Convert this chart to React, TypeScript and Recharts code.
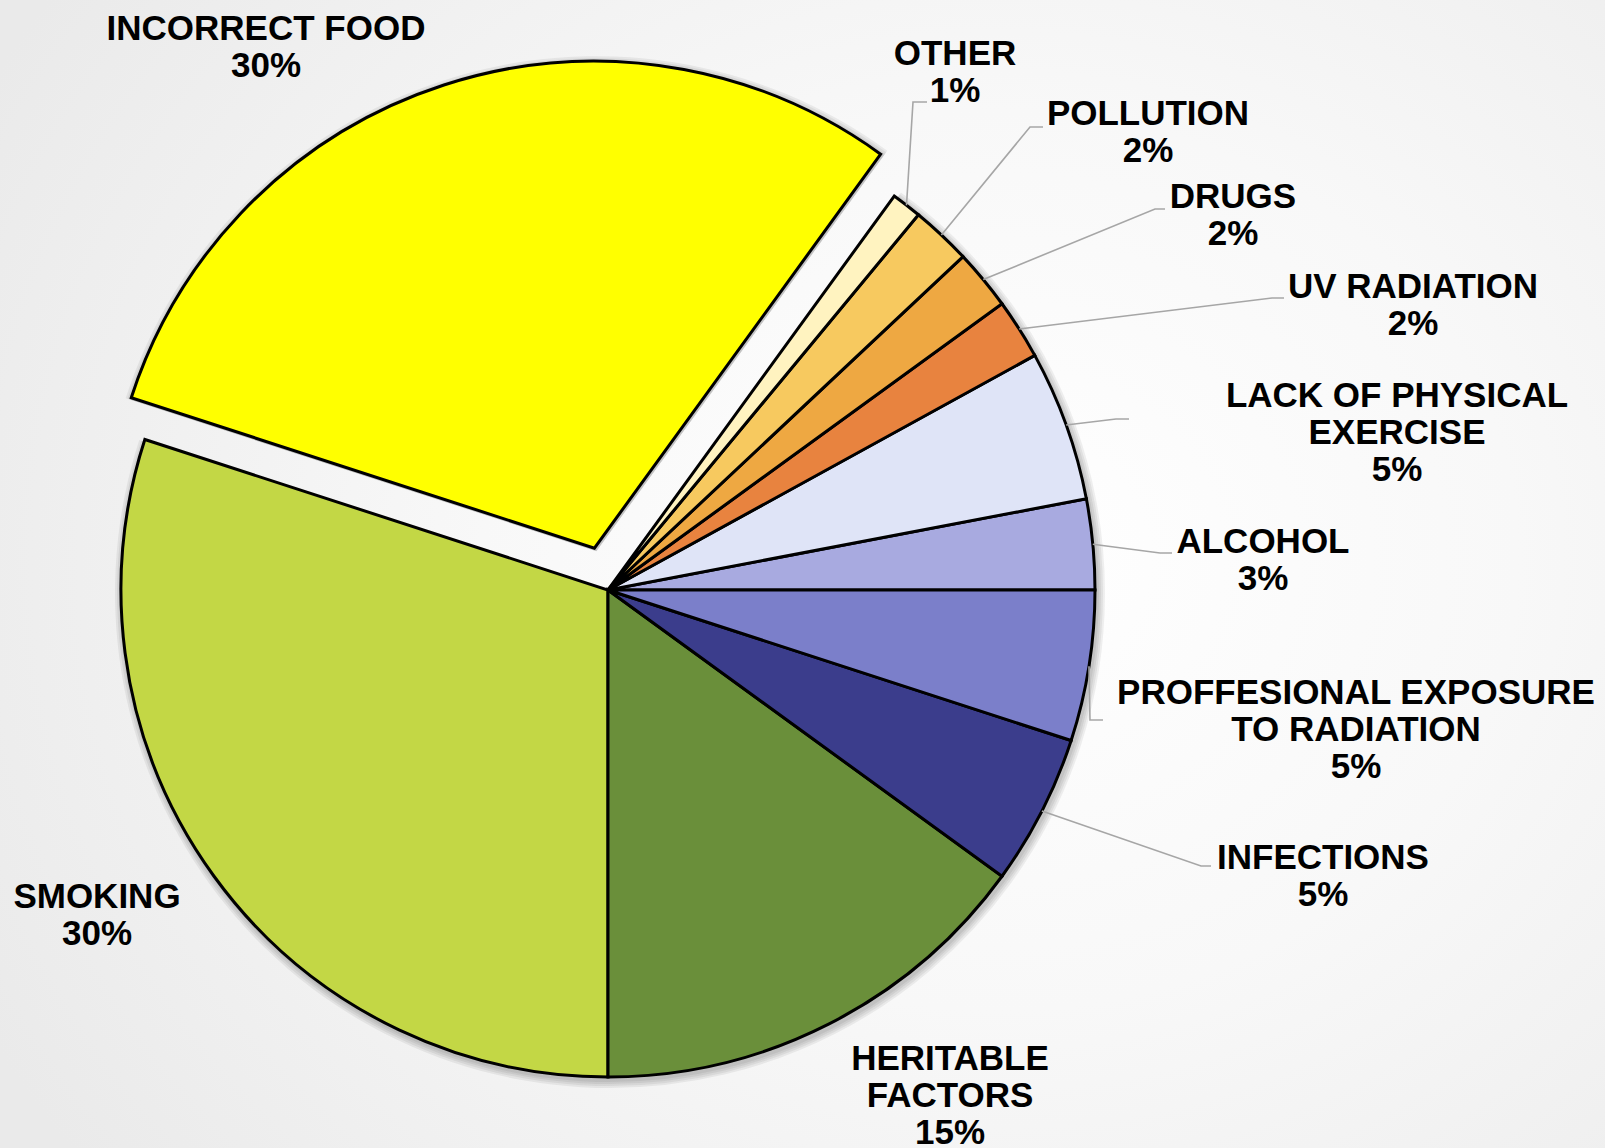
import React from 'react';
import { PieChart, Pie, Cell } from 'recharts';

// ---- data ----
const categories: string[] = [
  'ALCOHOL',
  'LACK OF PHYSICAL EXERCISE',
  'UV RADIATION',
  'DRUGS',
  'POLLUTION',
  'OTHER',
  'INCORRECT FOOD',
  'SMOKING',
  'HERITABLE FACTORS',
  'INFECTIONS',
  'PROFFESIONAL EXPOSURE TO RADIATION',
];
const values: number[] = [3, 5, 2, 2, 2, 1, 30, 30, 15, 5, 5];
const colors: string[] = [
  '#a8aae0',
  '#dfe4f7',
  '#e8833f',
  '#eea842',
  '#f7c95f',
  '#fff3c0',
  '#ffff00',
  '#c3d745',
  '#6a8f3a',
  '#3b3d8c',
  '#7b7fca',
];
const labelLines: string[][] = [
  ['ALCOHOL'],
  ['LACK OF PHYSICAL', 'EXERCISE'],
  ['UV RADIATION'],
  ['DRUGS'],
  ['POLLUTION'],
  ['OTHER'],
  ['INCORRECT FOOD'],
  ['SMOKING'],
  ['HERITABLE', 'FACTORS'],
  ['INFECTIONS'],
  ['PROFFESIONAL EXPOSURE', 'TO RADIATION'],
];
const explodedCategory = 'INCORRECT FOOD';

const data = categories.map((name, i) => ({ name, value: values[i] }));

// ---- layout ----
const W = 1605;
const H = 1148;
const CX = 608;
const CY = 590;
const R = 487;
const EXPLODE = 44;
const FONT = 35;
const LINE_H = 37;
const SHADOW_RINGS = [2, 4, 6, 8];
const SHADOW_DX = 2;
const SHADOW_DY = 3;

type LabelLayout = { x: number; y: number; bend?: [number, number]; end?: [number, number] };
const labelLayout: Record<string, LabelLayout> = {
  'INCORRECT FOOD': { x: 266, y: 40 },
  OTHER: { x: 955, y: 65, bend: [913, 102], end: [927, 102] },
  POLLUTION: { x: 1148, y: 125, bend: [1030, 127], end: [1043, 127] },
  DRUGS: { x: 1233, y: 208, bend: [1155, 209], end: [1165, 209] },
  'UV RADIATION': { x: 1413, y: 298, bend: [1272, 298], end: [1284, 298] },
  'LACK OF PHYSICAL EXERCISE': { x: 1397, y: 407, bend: [1116, 419], end: [1129, 419] },
  ALCOHOL: { x: 1263, y: 553, bend: [1160, 553], end: [1172, 553] },
  'PROFFESIONAL EXPOSURE TO RADIATION': { x: 1356, y: 704, bend: [1090, 720], end: [1103, 720] },
  INFECTIONS: { x: 1323, y: 869, bend: [1201, 866], end: [1211, 866] },
  'HERITABLE FACTORS': { x: 950, y: 1070 },
  SMOKING: { x: 97, y: 908 },
};

// exploded slice offset computed from the data
const total = values.reduce((a, b) => a + b, 0);
const exIdx = categories.indexOf(explodedCategory);
const before = values.slice(0, exIdx).reduce((a, b) => a + b, 0);
const exMid = ((before + values[exIdx] / 2) / total) * 360 * (Math.PI / 180);
const CX2 = CX + EXPLODE * Math.cos(exMid);
const CY2 = CY - EXPLODE * Math.sin(exMid);

const renderLabel = (props: any) => {
  const name: string = props?.payload?.name ?? props.name;
  const i = categories.indexOf(name);
  const lay = labelLayout[name];
  if (!lay || i < 0) return null;
  const pct = Math.round((props.percent ?? values[i] / total) * 100) + '%';
  const lines = [...labelLines[i], pct];
  const a = ((props.midAngle ?? 0) * Math.PI) / 180;
  const sx = CX + R * Math.cos(a);
  const sy = CY - R * Math.sin(a);
  return (
    <g key={'lbl-' + name}>
      {lay.bend && lay.end && (
        <polyline
          points={`${sx},${sy} ${lay.bend[0]},${lay.bend[1]} ${lay.end[0]},${lay.end[1]}`}
          fill="none"
          stroke="#a6a6a6"
          strokeWidth={1.6}
        />
      )}
      <text
        x={lay.x}
        y={lay.y}
        textAnchor="middle"
        fontFamily="'Liberation Sans', Arial, Helvetica, sans-serif"
        fontWeight="bold"
        fontSize={FONT}
        fill="#000"
      >
        {lines.map((t, k) => (
          <tspan key={k} x={lay.x} y={lay.y + k * LINE_H}>
            {t}
          </tspan>
        ))}
      </text>
    </g>
  );
};

const layerStyle: React.CSSProperties = { position: 'absolute', left: 0, top: 0, width: W, height: H };

const shadowPies = (exploded: boolean) =>
  SHADOW_RINGS.map((s) => (
    <Pie
      key={(exploded ? 'sx-' : 'sm-') + s}
      data={data}
      dataKey="value"
      nameKey="name"
      cx={(exploded ? CX2 : CX) + SHADOW_DX}
      cy={(exploded ? CY2 : CY) + SHADOW_DY}
      outerRadius={R + s}
      startAngle={0}
      endAngle={360}
      stroke="none"
      isAnimationActive={false}
      label={false}
      labelLine={false}
    >
      {data.map((d, i) => (
        <Cell
          key={'s-' + i}
          fill={(d.name === explodedCategory) === exploded ? '#000' : 'none'}
          fillOpacity={0.06}
          stroke="none"
        />
      ))}
    </Pie>
  ));

export default function App() {
  return (
    <div
      style={{
        ...layerStyle,
        background:
          'radial-gradient(ellipse 1150px 1000px at 1000px 560px, #ffffff 0%, #f8f8f8 45%, #efefef 80%, #eaeaea 100%)',
      }}
    >
      <div style={layerStyle}>
        <PieChart width={W} height={H} margin={{ top: 0, right: 0, bottom: 0, left: 0 }}>
          {shadowPies(true)}
          {shadowPies(false)}
          <Pie
            data={data}
            dataKey="value"
            nameKey="name"
            cx={CX2}
            cy={CY2}
            outerRadius={R}
            startAngle={0}
            endAngle={360}
            stroke="#000"
            strokeWidth={3}
            isAnimationActive={false}
            label={false}
            labelLine={false}
          >
            {data.map((d, i) => (
              <Cell
                key={'ex-' + i}
                fill={d.name === explodedCategory ? colors[i] : 'none'}
                stroke={d.name === explodedCategory ? '#000' : 'none'}
                strokeWidth={3}
              />
            ))}
          </Pie>
          <Pie
            data={data}
            dataKey="value"
            nameKey="name"
            cx={CX}
            cy={CY}
            outerRadius={R}
            startAngle={0}
            endAngle={360}
            stroke="#000"
            strokeWidth={3}
            isAnimationActive={false}
            label={false}
            labelLine={false}
          >
            {data.map((d, i) => (
              <Cell
                key={'c-' + i}
                fill={d.name === explodedCategory ? 'none' : colors[i]}
                stroke={d.name === explodedCategory ? 'none' : '#000'}
                strokeWidth={3}
              />
            ))}
          </Pie>
        </PieChart>
      </div>
      {/* labels and leader lines */}
      <div style={layerStyle}>
        <PieChart width={W} height={H} margin={{ top: 0, right: 0, bottom: 0, left: 0 }}>
          <Pie
            data={data}
            dataKey="value"
            nameKey="name"
            cx={CX}
            cy={CY}
            outerRadius={R}
            startAngle={0}
            endAngle={360}
            fill="none"
            stroke="none"
            isAnimationActive={false}
            label={renderLabel}
            labelLine={false}
          >
            {data.map((d, i) => (
              <Cell key={'l-' + i} fill="none" stroke="none" />
            ))}
          </Pie>
        </PieChart>
      </div>
    </div>
  );
}
